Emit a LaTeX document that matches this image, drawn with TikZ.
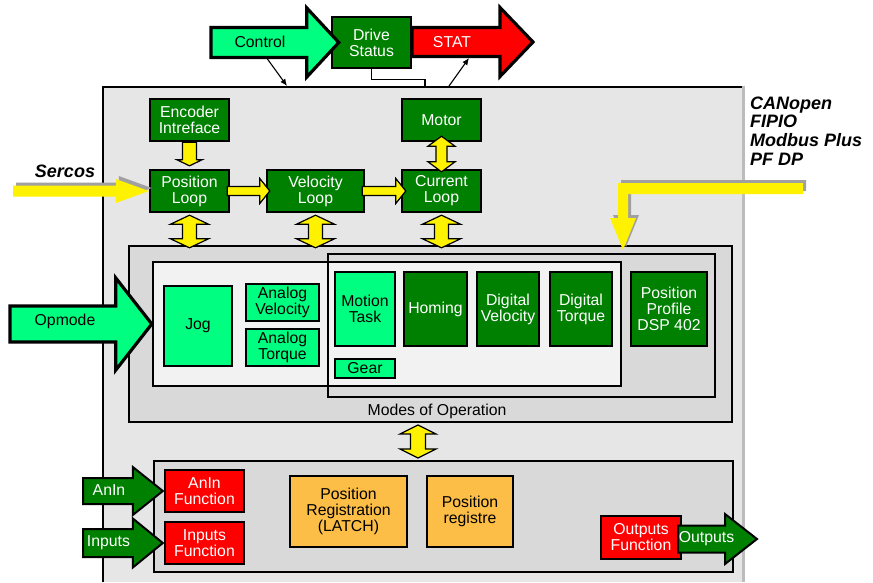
\documentclass[tikz,border=0pt]{standalone}
\usepackage{fontspec}
\setmainfont{Liberation Sans}
\usetikzlibrary{calc,arrows.meta}

\definecolor{darkgreen}{RGB}{0,128,0}
\definecolor{springgreen}{RGB}{0,255,128}
\definecolor{latchorange}{RGB}{252,190,70}
\definecolor{driveback}{RGB}{230,230,230}
\definecolor{modesback}{RGB}{217,217,217}
\definecolor{taskback}{RGB}{242,242,242}
\definecolor{shadowgray}{RGB}{160,160,160}

% horizontal block arrow: [style]{tail}{tip}{body half}{head half}{head length}
\newcommand{\blockarrow}[6][]{%
  \path[#1] let \p1=(#2), \p2=(#3) in
    (\x1,\y2+#4) -- (\x2-#6,\y2+#4) -- (\x2-#6,\y2+#5) -- (\x2,\y2)
    -- (\x2-#6,\y2-#5) -- (\x2-#6,\y2-#4) -- (\x1,\y2-#4) -- cycle;}

% vertical double block arrow: [style]{top tip}{bottom tip}{head half}{body half}{head length}
\newcommand{\doublearrow}[6][]{%
  \path[#1] let \p1=(#2), \p2=(#3) in
    (\x1,\y1) -- (\x1+#4,\y1-#6) -- (\x1+#5,\y1-#6) -- (\x1+#5,\y2+#6)
    -- (\x1+#4,\y2+#6) -- (\x1,\y2) -- (\x1-#4,\y2+#6) -- (\x1-#5,\y2+#6)
    -- (\x1-#5,\y1-#6) -- (\x1-#4,\y1-#6) -- cycle;}

\begin{document}
\begin{tikzpicture}[x=1pt, y=-1pt,
    every node/.style={font=\fontsize{15.8}{16}\selectfont, align=center, inner sep=0pt},
    dark/.style={draw, line width=2.4pt, fill=darkgreen, text=white},
    light/.style={draw, line width=2.4pt, fill=springgreen},
    alarm/.style={draw, line width=2.4pt, fill=red, text=white},
    latch/.style={draw, line width=2.4pt, fill=latchorange},
    panel/.style={draw, line width=2.4pt},
    yellow link/.style={draw, line width=1.2pt, fill=yellow, line join=miter},
    fat arrow/.style={draw, line width=3.2pt, line join=miter},
    slim arrow/.style={draw, line width=2pt, line join=miter, fill=darkgreen},
    thin arrow/.style={-{Latex[length=7pt,width=6pt]}, line width=1.1pt},
    bus/.style={font=\bfseries\itshape\fontsize{18}{18.7}\selectfont}
    ]

\useasboundingbox (0,0) rectangle (873,582);

% Drive frame
\fill[driveback] (102,86) rectangle (742,582);
\draw[line width=3pt, shadowgray!70] (743.5,86) -- (743.5,582);
\draw[line width=2.4pt] (103,582) |- (742,87);

% Panels
\node[panel, fill=modesback, minimum width=603pt, minimum height=176pt] (Modes) at (430.5,334) {};
\node (Modes Label) at (437,411) {Modes of Operation};
\node[panel, fill=taskback, minimum width=468pt, minimum height=124pt] (Analog Panel) at (387,324) {};
\node[panel, minimum width=387pt, minimum height=143pt] (Digital Panel) at (521.5,325.5) {};
\node[panel, fill=modesback, minimum width=579pt, minimum height=111pt] (IO Panel) at (443.5,516.5) {};

% Drive status
\blockarrow[fat arrow, fill=red]{412,42}{533,42}{14.5pt}{34.5pt}{33pt}
\node[text=white] (STAT) at (452,42) {STAT};
\node[dark, minimum width=79pt, minimum height=51pt] (Drive) at (371.5,42.5) {Drive\\Status};
\blockarrow[fat arrow, fill=springgreen]{211,42}{$(Drive.west)+(8,0)$}{15pt}{34.5pt}{32pt}
\node (Control) at (260,42) {Control};

\coordinate (control foot) at (266,57);
\coordinate (frame in) at (287,86);
\coordinate (frame out) at (449,86);
\coordinate (stat foot) at (469,58);
\coordinate (status link) at (425,86);
\draw[thin arrow] (control foot) -- (frame in);
\draw[thin arrow] (frame out) -- (stat foot);
\draw[line width=1.2pt] (Drive.south) -- ++(0,10) -| (status link);

% Control loops
\node[dark, minimum width=79pt, minimum height=42pt] (Encoder) at (189.5,120) {Encoder\\Intreface};
\node[dark, minimum width=79pt, minimum height=42pt] (Position Loop) at (189.5,191) {Position\\Loop};
\node[dark, minimum width=97pt, minimum height=42pt] (Velocity Loop) at (315.5,191) {Velocity\\Loop};
\node[dark, minimum width=79pt, minimum height=42pt] (Current Loop) at (441.5,191) {Current\\Loop};
\node[dark, minimum width=79pt, minimum height=42pt] (Motor) at (441.5,120) {Motor};

% Operating modes
\node[light, minimum width=68pt, minimum height=80pt] (Jog) at (198,326) {Jog};
\node[light, minimum width=73pt, minimum height=37pt] (Analog Velocity) at (282.5,302.5) {Analog\\Velocity};
\node[light, minimum width=73pt, minimum height=37pt] (Analog Torque) at (282.5,347.5) {Analog\\Torque};
\node[light, minimum width=60pt, minimum height=74pt] (Motion Task) at (365,309) {Motion\\Task};
\node[light, minimum width=60pt, minimum height=19pt] (Gear) at (365,368.5) {Gear};
\node[dark, minimum width=63pt, minimum height=74pt] (Homing) at (435.5,309) {Homing};
\node[dark, minimum width=62pt, minimum height=74pt] (Digital Velocity) at (508,309) {Digital\\Velocity};
\node[dark, minimum width=62pt, minimum height=74pt] (Digital Torque) at (581,309) {Digital\\Torque};
\node[dark, minimum width=76pt, minimum height=74pt] (Position Profile) at (669,309) {Position\\Profile\\DSP 402};

% I/O functions
\node[alarm, minimum width=79pt, minimum height=42pt] (AnIn Function) at (204.5,491) {AnIn\\Function};
\node[alarm, minimum width=79pt, minimum height=42pt] (Inputs Function) at (204.5,543) {Inputs\\Function};
\node[latch, minimum width=117pt, minimum height=71pt] (Latch) at (348.5,511.5) {Position\\Registration\\(LATCH)};
\node[latch, minimum width=86pt, minimum height=71pt] (Registre) at (470,511.5) {Position\\registre};
\node[alarm, minimum width=80pt, minimum height=43pt] (Outputs Function) at (641,537.5) {Outputs\\Function};

% Yellow links
\path[yellow link] let \p1=(Encoder.south), \p2=($(Position Loop.north)+(0,-3)$) in
    (\x1-7pt,\y1) -- (\x1+7pt,\y1) -- (\x1+7pt,\y2+6pt) -- (\x1+12.5pt,\y2+6pt)
    -- (\x1,\y2) -- (\x1-12.5pt,\y2+6pt) -- (\x1-7pt,\y2+6pt) -- cycle;
\blockarrow[yellow link]{$(Position Loop.east)+(-3,0)$}{$(Velocity Loop.west)+(4,0)$}{4.5pt}{12.5pt}{10pt}
\blockarrow[yellow link]{$(Velocity Loop.east)+(-3,0)$}{$(Current Loop.west)+(5,0)$}{4.5pt}{12.5pt}{10pt}
\doublearrow[yellow link]{$(Motor.south)+(0,-6)$}{$(Current Loop.north)+(0,3)$}{13.5pt}{5.5pt}{10pt}
\doublearrow[yellow link]{$(Position Loop.south)+(0,2)$}{$(Position Loop.south |- Modes.north)+(0,3)$}{19pt}{7pt}{9pt}
\doublearrow[yellow link]{$(Velocity Loop.south)+(0,2)$}{$(Velocity Loop.south |- Modes.north)+(0,3)$}{19pt}{7pt}{9pt}
\doublearrow[yellow link]{$(Current Loop.south)+(0,2)$}{$(Current Loop.south |- Modes.north)+(0,3)$}{19pt}{7pt}{9pt}
\doublearrow[yellow link]{418,425}{418,458}{18pt}{7.5pt}{9pt}

% Fieldbus inputs
\node[bus, anchor=base] (Sercos) at (65,177) {Sercos};
\begin{scope}[transform canvas={shift={(3pt,3pt)}}]
  \blockarrow[fill=shadowgray]{13,191}{Position Loop.west}{5.5pt}{12pt}{33pt}
  \fill[shadowgray] (803,183) -- (618,183) -- (618,218) -- (610,218) -- (623,250)
    -- (636,218) -- (628,218) -- (628,194) -- (803,194) -- cycle;
\end{scope}
\blockarrow[fill=yellow]{13,191}{Position Loop.west}{5.5pt}{12pt}{33pt}
\fill[yellow] (803,183) -- (618,183) -- (618,218) -- (610,218) -- (623,250)
    -- (636,218) -- (628,218) -- (628,194) -- (803,194) -- cycle;
\node[bus, anchor=north west, align=left] (Fieldbus) at (750,96.5) {CANopen\\FIPIO\\Modbus Plus\\PF DP};

% Opmode and I/O arrows
\blockarrow[fat arrow, fill=springgreen]{10,322}{Analog Panel.west}{18pt}{46pt}{36pt}
\node (Opmode) at (65,321) {Opmode};
\blockarrow[slim arrow]{83,490}{$(AnIn Function.west)+(-1,0)$}{13pt}{24pt}{30pt}
\node[text=white] (AnIn) at (109,490) {AnIn};
\blockarrow[slim arrow]{83,543}{$(Inputs Function.west)+(-1,0)$}{14pt}{24.5pt}{30pt}
\node[text=white] (Inputs) at (108.5,543) {Inputs};
\blockarrow[slim arrow]{$(Outputs Function.east)+(-4,0)$}{757,539}{13.5pt}{25pt}{32pt}
\node[text=white] (Outputs) at (706.5,539) {Outputs};

\end{tikzpicture}
\end{document}
